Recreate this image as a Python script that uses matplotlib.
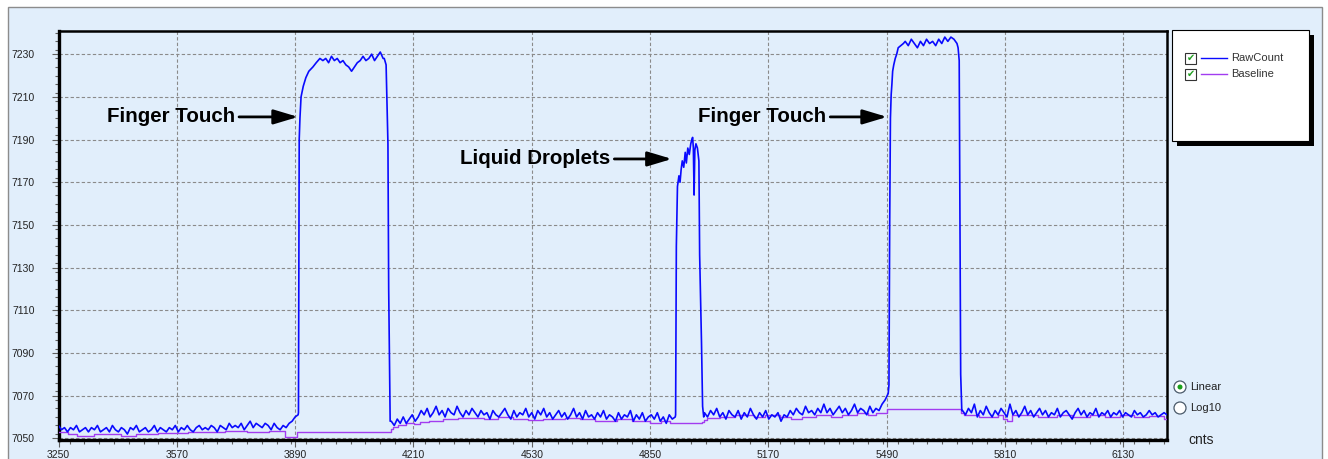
import numpy as np
import matplotlib
matplotlib.use("Agg")
import matplotlib.pyplot as plt
from matplotlib.patches import Rectangle, Circle
from matplotlib.transforms import Affine2D
from matplotlib.ticker import MultipleLocator

W, H = 1328, 459

# ---- data ----
idle1 = [7056, 7054, 7055, 7053, 7055, 7054, 7056, 7053, 7054, 7055,
         7053, 7055, 7054, 7056, 7053, 7054, 7055, 7053, 7056, 7054,
         7053, 7055, 7054, 7052, 7055, 7054, 7056, 7053, 7054, 7055,
         7053, 7054, 7056, 7053, 7055, 7054, 7053, 7055, 7054, 7056,
         7053, 7055, 7054, 7056, 7054, 7053, 7055, 7056, 7054, 7055,
         7054, 7056, 7055, 7053, 7056, 7055, 7054, 7057, 7055, 7056,
         7055, 7057, 7054, 7056, 7058, 7055, 7057, 7056, 7055, 7057,
         7056, 7054, 7057, 7055, 7054, 7056, 7055, 7057, 7058, 7060,
         7061]
rise1_x = [3899, 3901, 3903, 3906, 3912, 3919, 3927, 3938, 3947, 3957]
rise1_y = [7062, 7190, 7200, 7210, 7215, 7219, 7222, 7224, 7226, 7228]
top1 = [7227, 7228, 7226, 7229, 7227, 7228, 7226, 7227, 7225, 7224, 7222,
        7224, 7226, 7227, 7229, 7227, 7228, 7230, 7227, 7229, 7231, 7228]
fall1_x = [4131, 4136, 4141, 4143, 4147]
fall1_y = [7228, 7225, 7188, 7120, 7058]
idle2 = [7058, 7056, 7059, 7057, 7060, 7057, 7059, 7061, 7058,
         7060, 7063, 7061, 7064, 7060, 7062, 7065, 7061, 7063, 7060,
         7064, 7062, 7061, 7065, 7062, 7060, 7063, 7061, 7064, 7062,
         7060, 7063, 7061, 7062, 7059, 7063, 7061, 7060, 7062, 7064,
         7061, 7059, 7063, 7060, 7062, 7061, 7064, 7060, 7062, 7059,
         7063, 7061, 7064, 7060, 7062, 7059, 7061, 7063, 7060, 7062,
         7059, 7061, 7064, 7060, 7062, 7059, 7063, 7060, 7061, 7059,
         7062, 7060, 7063, 7059, 7061, 7060, 7058, 7062, 7059, 7061,
         7060, 7063, 7058, 7061, 7059, 7062, 7058, 7060, 7061, 7059,
         7062, 7058, 7060, 7057, 7061, 7059, 7060]
drop_x = [4919, 4921, 4924, 4928, 4931, 4934, 4937, 4941, 4945, 4948, 4952, 4956, 4960,
          4963, 4965, 4967, 4969, 4971, 4974, 4978, 4982, 4984, 4987, 4989, 4992, 4995]
drop_y = [7061, 7140, 7168, 7173, 7170, 7176, 7180, 7177, 7184, 7179, 7186, 7183, 7188,
          7190, 7191, 7186, 7164, 7185, 7188, 7186, 7180, 7136, 7111, 7095, 7065, 7060]
idle3 = [7062, 7060, 7063, 7061, 7064, 7060, 7062, 7059, 7063, 7061,
         7060, 7063, 7059, 7062, 7060, 7064, 7061, 7059, 7062, 7060,
         7063, 7059, 7061, 7060, 7062, 7058, 7061, 7060, 7063, 7061,
         7064, 7062, 7061, 7065, 7062, 7063, 7061, 7064, 7062, 7066,
         7062, 7064, 7061, 7063, 7065, 7062, 7064, 7061, 7063, 7066,
         7062, 7064, 7063, 7061, 7065, 7062, 7064, 7063, 7066, 7068, 7071]
rise2_x = [5496, 5498, 5500, 5502, 5504, 5506, 5509, 5513, 5517, 5521, 5528, 5535]
rise2_y = [7075, 7150, 7200, 7211, 7216, 7222, 7225, 7228, 7230, 7233, 7234, 7235]
top2 = [7236, 7234, 7237, 7235, 7233, 7236, 7234, 7237, 7235,
        7236, 7234, 7237, 7235, 7238, 7236, 7238, 7237, 7235]
fall2_x = [5683, 5686, 5688, 5690, 5693]
fall2_y = [7233, 7227, 7150, 7080, 7063]
idle4 = [7063, 7061, 7064, 7062, 7066, 7060, 7063, 7061, 7065, 7062,
         7060, 7063, 7061, 7064, 7062, 7060, 7066, 7061, 7063, 7060,
         7062, 7065, 7061, 7063, 7060, 7062, 7064, 7061, 7063, 7060,
         7062, 7061, 7064, 7060, 7062, 7063, 7061, 7059, 7062, 7064,
         7061, 7063, 7060, 7062, 7061, 7064, 7060, 7062, 7061, 7063,
         7060, 7062, 7061, 7063, 7060, 7062, 7061, 7060, 7063, 7061,
         7062, 7060, 7061, 7063, 7061, 7062, 7060, 7061, 7062, 7061]

base_x = [3250, 3275, 3300, 3345, 3420, 3460, 3520, 3600, 3700, 3760, 3820, 3862, 3895,
          4150, 4155, 4168, 4190, 4212, 4228, 4252, 4290, 4330, 4400, 4440, 4480,
          4520, 4560, 4620, 4660, 4700, 4760, 4800, 4850, 4880, 4905,
          4990, 4995, 5005, 5040, 5080, 5130, 5160, 5200, 5230, 5260, 5300, 5340,
          5370, 5410, 5440, 5462, 5492,
          5690, 5700, 5740, 5790, 5805, 5815, 5830, 5900, 5950, 5990, 6040, 6080,
          6120, 6160, 6200, 6240, 6248]
base_y = [7053, 7052, 7051, 7052, 7051, 7052, 7052.5, 7053, 7053.5, 7053, 7053.5, 7050.5, 7053,
          7054.5, 7055.5, 7056, 7057, 7056.5, 7057.5, 7058, 7059, 7059.5, 7059, 7060, 7059,
          7058.5, 7059, 7059.5, 7059, 7058, 7059, 7058, 7057, 7058, 7057,
          7057.5, 7058.5, 7059.5, 7060, 7061, 7060, 7061, 7060, 7059, 7060, 7061, 7060,
          7061, 7062, 7061, 7062, 7063.5,
          7062, 7061, 7060, 7061, 7059, 7058, 7061, 7060, 7061, 7060, 7061, 7060,
          7061, 7060, 7060.5, 7059, 7059]

# assemble raw trace: evenly spaced noisy parts, explicit x for the edges
parts = [
    (np.linspace(3250, 3898, len(idle1)), idle1),
    (rise1_x, rise1_y),
    (np.linspace(3965, 4128, len(top1)), top1),
    (fall1_x, fall1_y),
    (np.linspace(4150, 4918, len(idle2)), idle2),
    (drop_x, drop_y),
    (np.linspace(4997, 5494, len(idle3)), idle3),
    (rise2_x, rise2_y),
    (np.linspace(5540, 5680, len(top2)), top2),
    (fall2_x, fall2_y),
    (np.linspace(5695, 6248, len(idle4)), idle4),
]
raw_x = np.concatenate([np.asarray(p[0], float) for p in parts])
raw_y = np.concatenate([np.asarray(p[1], float) for p in parts])

bg = '#e1eefb'
raw_col = '#0a0aff'
base_col = '#a23cf0'

fig = plt.figure(figsize=(W / 100, H / 100), dpi=100)
fig.patch.set_facecolor('white')
# pixel coords (origin top-left) -> display
pxt = Affine2D().scale(1 / W, -1 / H).translate(0, 1) + fig.transFigure

fig.add_artist(Rectangle((8, 7), 1314, 460, transform=pxt, facecolor=bg,
                         edgecolor='#8c8c8c', lw=1, zorder=0))

ax = fig.add_axes([58.5 / W, 1 - 440 / H, (1167 - 58.5) / W, (440 - 30.7) / H])
ax.set_facecolor(bg)
ax.step(base_x, base_y, where='post', color=base_col, lw=1.0, zorder=3)
ax.plot(raw_x, raw_y, color=raw_col, lw=1.2, zorder=4)

ax.set_xlim(3250, 6248)
ax.set_ylim(7049.2, 7241)
ax.xaxis.set_minor_locator(MultipleLocator(40))
ax.yaxis.set_minor_locator(MultipleLocator(4))
ax.set_xticks(np.arange(3250, 6249, 320))
ax.set_yticks(np.arange(7050, 7241, 20))
ax.grid(True, which='major', color='#8a8a8a', linestyle=(0, (3, 2)), lw=0.8)
ax.set_axisbelow(True)

for s in ax.spines.values():
    s.set_color('black')
    s.set_linewidth(1.8)
ax.spines['left'].set_linewidth(2.4)
ax.spines['bottom'].set_linewidth(2.4)

ax.tick_params(which='major', direction='out', length=5, width=0.8, color='#606060',
               labelsize=7.5, labelcolor='#222222')
ax.tick_params(which='minor', direction='out', length=3, width=0.8, color='#606060')
ax.tick_params(axis='y', which='major', pad=12)
ax.tick_params(axis='x', which='major', pad=2)
for lab in ax.get_xticklabels() + ax.get_yticklabels():
    lab.set_family('Liberation Sans')

# annotations
ann = dict(fontsize=14.8, fontweight='bold', family='Liberation Sans', ha='right', va='center',
           arrowprops=dict(arrowstyle='-|>,head_length=1.0,head_width=0.3', color='black',
                           lw=2, shrinkA=1, shrinkB=0))
ax.annotate('Finger Touch', xy=(3898, 7200.6), xytext=(3727, 7200.6), **ann)
ax.annotate('Liquid Droplets', xy=(4909, 7180.9), xytext=(4742, 7180.9), **ann)
ax.annotate('Finger Touch', xy=(5491, 7200.6), xytext=(5326, 7200.6), **ann)

# legend panel
fig.add_artist(Rectangle((1177, 35), 137, 111, transform=pxt, facecolor='black',
                         edgecolor='none', zorder=5))
fig.add_artist(Rectangle((1172, 30), 137, 111, transform=pxt, facecolor='white',
                         edgecolor='black', lw=0.8, zorder=6))
for yy, name, col in [(58, 'RawCount', raw_col), (74, 'Baseline', base_col)]:
    fig.add_artist(Rectangle((1185, yy - 5.5), 11, 11, transform=pxt, facecolor='white',
                             edgecolor='#333333', lw=0.8, zorder=7))
    fig.text(1190.5, yy, '\u2714', transform=pxt, color='#22a022', fontsize=7,
             ha='center', va='center', zorder=8)
    fig.add_artist(plt.Line2D([1201, 1227], [yy, yy], transform=pxt, color=col,
                              lw=1.0, zorder=7))
    fig.text(1231, yy, name, transform=pxt, fontsize=8, color='#333333',
             family='Liberation Sans', ha='left', va='center', zorder=8)

# scale radio buttons
for yy, name, on in [(387, 'Linear', True), (408, 'Log10', False)]:
    fig.add_artist(Circle((1180, yy), 6, transform=pxt, facecolor='white',
                          edgecolor='#4a5a6a', lw=0.9, zorder=7))
    if on:
        fig.add_artist(Circle((1180, yy), 2.5, transform=pxt, facecolor='#1aa01a',
                              edgecolor='none', zorder=8))
    fig.text(1190, yy, name, transform=pxt, fontsize=8, color='#222222',
             family='Liberation Sans', ha='left', va='center')
fig.text(1188, 440, 'cnts', transform=pxt, fontsize=10, color='#222222',
         family='Liberation Sans', ha='left', va='center')

fig.savefig('out.png', dpi=100)
